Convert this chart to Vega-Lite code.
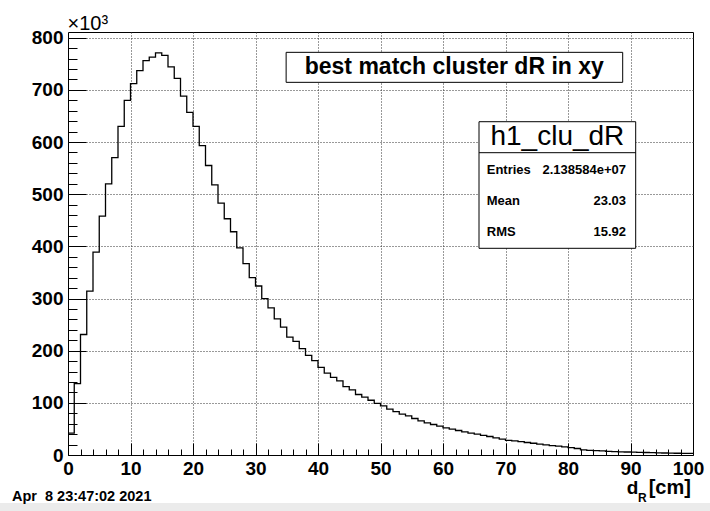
{
  "$schema": "https://vega.github.io/schema/vega-lite/v6.json",
  "width": 625,
  "height": 423,
  "autosize": {"type": "none"},
  "padding": {"left": 68, "top": 32, "right": 17, "bottom": 56},
  "background": "white",
  "config": {
    "view": {"stroke": "#000", "strokeWidth": 1},
    "font": "Liberation Sans"
  },
  "data": {
    "values": [
      {"lo": 0, "hi": 1, "n": 42}, {"lo": 1, "hi": 2, "n": 137}, {"lo": 2, "hi": 3, "n": 231}, {"lo": 3, "hi": 4, "n": 314},
      {"lo": 4, "hi": 5, "n": 389}, {"lo": 5, "hi": 6, "n": 458}, {"lo": 6, "hi": 7, "n": 520}, {"lo": 7, "hi": 8, "n": 570},
      {"lo": 8, "hi": 9, "n": 630}, {"lo": 9, "hi": 10, "n": 680}, {"lo": 10, "hi": 11, "n": 712}, {"lo": 11, "hi": 12, "n": 737},
      {"lo": 12, "hi": 13, "n": 756}, {"lo": 13, "hi": 14, "n": 763}, {"lo": 14, "hi": 15, "n": 771}, {"lo": 15, "hi": 16, "n": 766},
      {"lo": 16, "hi": 17, "n": 744}, {"lo": 17, "hi": 18, "n": 722}, {"lo": 18, "hi": 19, "n": 688}, {"lo": 19, "hi": 20, "n": 657},
      {"lo": 20, "hi": 21, "n": 630}, {"lo": 21, "hi": 22, "n": 593}, {"lo": 22, "hi": 23, "n": 555}, {"lo": 23, "hi": 24, "n": 518},
      {"lo": 24, "hi": 25, "n": 483}, {"lo": 25, "hi": 26, "n": 453}, {"lo": 26, "hi": 27, "n": 428}, {"lo": 27, "hi": 28, "n": 397},
      {"lo": 28, "hi": 29, "n": 367}, {"lo": 29, "hi": 30, "n": 340}, {"lo": 30, "hi": 31, "n": 324}, {"lo": 31, "hi": 32, "n": 300},
      {"lo": 32, "hi": 33, "n": 282}, {"lo": 33, "hi": 34, "n": 261}, {"lo": 34, "hi": 35, "n": 245}, {"lo": 35, "hi": 36, "n": 226},
      {"lo": 36, "hi": 37, "n": 218}, {"lo": 37, "hi": 38, "n": 204}, {"lo": 38, "hi": 39, "n": 191}, {"lo": 39, "hi": 40, "n": 181},
      {"lo": 40, "hi": 41, "n": 168}, {"lo": 41, "hi": 42, "n": 157}, {"lo": 42, "hi": 43, "n": 149}, {"lo": 43, "hi": 44, "n": 142},
      {"lo": 44, "hi": 45, "n": 131}, {"lo": 45, "hi": 46, "n": 125}, {"lo": 46, "hi": 47, "n": 116}, {"lo": 47, "hi": 48, "n": 111},
      {"lo": 48, "hi": 49, "n": 105}, {"lo": 49, "hi": 50, "n": 99}, {"lo": 50, "hi": 51, "n": 94}, {"lo": 51, "hi": 52, "n": 88},
      {"lo": 52, "hi": 53, "n": 83}, {"lo": 53, "hi": 54, "n": 78.5}, {"lo": 54, "hi": 55, "n": 75}, {"lo": 55, "hi": 56, "n": 70},
      {"lo": 56, "hi": 57, "n": 65.5}, {"lo": 57, "hi": 58, "n": 61.5}, {"lo": 58, "hi": 59, "n": 58.5}, {"lo": 59, "hi": 60, "n": 55.5},
      {"lo": 60, "hi": 61, "n": 52}, {"lo": 61, "hi": 62, "n": 49.5}, {"lo": 62, "hi": 63, "n": 47}, {"lo": 63, "hi": 64, "n": 44.5},
      {"lo": 64, "hi": 65, "n": 42}, {"lo": 65, "hi": 66, "n": 40}, {"lo": 66, "hi": 67, "n": 37.5}, {"lo": 67, "hi": 68, "n": 35.5},
      {"lo": 68, "hi": 69, "n": 33}, {"lo": 69, "hi": 70, "n": 30.5}, {"lo": 70, "hi": 71, "n": 28}, {"lo": 71, "hi": 72, "n": 27},
      {"lo": 72, "hi": 73, "n": 25.5}, {"lo": 73, "hi": 74, "n": 24}, {"lo": 74, "hi": 75, "n": 22.5}, {"lo": 75, "hi": 76, "n": 21},
      {"lo": 76, "hi": 77, "n": 19.5}, {"lo": 77, "hi": 78, "n": 18}, {"lo": 78, "hi": 79, "n": 17}, {"lo": 79, "hi": 80, "n": 15.5},
      {"lo": 80, "hi": 81, "n": 14}, {"lo": 81, "hi": 82, "n": 12.5}, {"lo": 82, "hi": 83, "n": 10}, {"lo": 83, "hi": 84, "n": 9},
      {"lo": 84, "hi": 85, "n": 8.5}, {"lo": 85, "hi": 86, "n": 8}, {"lo": 86, "hi": 87, "n": 7}, {"lo": 87, "hi": 88, "n": 6.5},
      {"lo": 88, "hi": 89, "n": 6}, {"lo": 89, "hi": 90, "n": 5.8}, {"lo": 90, "hi": 91, "n": 5.5}, {"lo": 91, "hi": 92, "n": 5},
      {"lo": 92, "hi": 93, "n": 4.8}, {"lo": 93, "hi": 94, "n": 4.5}, {"lo": 94, "hi": 95, "n": 4}, {"lo": 95, "hi": 96, "n": 3.8},
      {"lo": 96, "hi": 97, "n": 3.6}, {"lo": 97, "hi": 98, "n": 3.4}, {"lo": 98, "hi": 99, "n": 3.2}, {"lo": 99, "hi": 100, "n": 3}
    ]
  },
  "layer": [
    {
      "transform": [{"fold": ["lo", "hi"], "as": ["side", "edge"]}],
      "mark": {"type": "line", "color": "#000", "strokeWidth": 1.3, "interpolate": "linear"},
      "encoding": {
        "x": {
          "field": "edge",
          "type": "quantitative",
          "scale": {"domain": [0, 100], "nice": false, "zero": false},
          "axis": {
            "title": null,
            "values": [0, 2, 4, 6, 8, 10, 12, 14, 16, 18, 20, 22, 24, 26, 28, 30, 32, 34, 36, 38, 40, 42, 44, 46, 48, 50, 52, 54, 56, 58, 60, 62, 64, 66, 68, 70, 72, 74, 76, 78, 80, 82, 84, 86, 88, 90, 92, 94, 96, 98, 100],
            "tickCount": 200,
            "format": "d",
            "domain": false,
            "grid": true,
            "gridColor": "#333",
            "gridDash": [1, 2],
            "gridWidth": 1,
            "gridOpacity": {"condition": {"test": "datum.value % 10 === 0 && datum.value > 0 && datum.value < 100", "value": 1}, "value": 0},
            "ticks": true,
            "tickColor": "#000",
            "tickWidth": 1,
            "tickSize": -12,
            "tickDash": {"condition": {"test": "datum.value % 10 === 0", "value": [100, 1]}, "value": [6, 100]},
            "labelExpr": "datum.value % 10 === 0 ? datum.label : ''",
            "labelFont": "Liberation Sans",
            "labelFontSize": 19,
            "labelFontWeight": "bold",
            "labelColor": "#000",
            "labelPadding": 16,
            "labelOffset": {"condition": {"test": "datum.value === 100", "value": -5}, "value": 0},
            "labelFlush": false,
            "labelOverlap": false
          }
        },
        "y": {
          "field": "n",
          "type": "quantitative",
          "scale": {"domain": [0, 811], "nice": false},
          "axis": {
            "title": "×10³",
            "titleAngle": 0,
            "titleAlign": "left",
            "titleBaseline": "alphabetic",
            "titleX": -1,
            "titleY": -3,
            "titleFont": "Liberation Sans",
            "titleFontSize": 20,
            "titleFontWeight": "normal",
            "titleColor": "#000",
            "values": [0, 20, 40, 60, 80, 100, 120, 140, 160, 180, 200, 220, 240, 260, 280, 300, 320, 340, 360, 380, 400, 420, 440, 460, 480, 500, 520, 540, 560, 580, 600, 620, 640, 660, 680, 700, 720, 740, 760, 780, 800],
            "tickCount": 200,
            "format": "d",
            "domain": false,
            "grid": true,
            "gridColor": "#333",
            "gridDash": [1, 2],
            "gridWidth": 1,
            "gridOpacity": {"condition": {"test": "datum.value % 100 === 0 && datum.value > 0", "value": 1}, "value": 0},
            "ticks": true,
            "tickColor": "#000",
            "tickWidth": 1,
            "tickSize": -18,
            "tickDash": {"condition": {"test": "datum.value % 100 === 0", "value": [100, 1]}, "value": [9, 100]},
            "labelExpr": "datum.value % 100 === 0 ? datum.label : ''",
            "labelFont": "Liberation Sans",
            "labelFontSize": 19,
            "labelFontWeight": "bold",
            "labelColor": "#000",
            "labelPadding": 23,
            "labelFlush": false,
            "labelOverlap": false
          }
        },
        "order": [
          {"field": "edge", "type": "quantitative", "sort": "ascending"},
          {"field": "side", "type": "nominal", "sort": "ascending"}
        ]
      }
    },
    {
      "data": {"values": [{}]},
      "mark": {"type": "rect", "fill": "#ebebeb", "clip": false},
      "encoding": {
        "x": {"datum": -11, "type": "quantitative", "scale": {"domain": [0, 100], "nice": false, "zero": false}},
        "x2": {"datum": 103},
        "y": {"datum": -92, "type": "quantitative", "scale": {"domain": [0, 811], "nice": false}},
        "y2": {"datum": -108}
      }
    },
    {
      "data": {"values": [{}]},
      "mark": {"type": "rect", "fill": "white", "stroke": "#000", "strokeWidth": 1},
      "encoding": {
        "x": {"datum": 34.9, "type": "quantitative", "scale": {"domain": [0, 100], "nice": false, "zero": false}},
        "x2": {"datum": 88.75},
        "y": {"datum": 772, "type": "quantitative", "scale": {"domain": [0, 811], "nice": false}},
        "y2": {"datum": 714.5}
      }
    },
    {
      "data": {"values": [{}]},
      "mark": {"type": "text", "align": "center", "baseline": "middle", "font": "Liberation Sans", "fontSize": 23, "fontWeight": "bold", "color": "#000"},
      "encoding": {
        "x": {"datum": 61.8, "type": "quantitative", "scale": {"domain": [0, 100], "nice": false, "zero": false}},
        "y": {"datum": 743, "type": "quantitative", "scale": {"domain": [0, 811], "nice": false}},
        "text": {"value": "best match cluster dR in xy"}
      }
    },
    {
      "data": {"values": [{}]},
      "mark": {"type": "rect", "fill": "white", "stroke": "#000", "strokeWidth": 1},
      "encoding": {
        "x": {"datum": 65.76, "type": "quantitative", "scale": {"domain": [0, 100], "nice": false, "zero": false}},
        "x2": {"datum": 90.83},
        "y": {"datum": 639, "type": "quantitative", "scale": {"domain": [0, 811], "nice": false}},
        "y2": {"datum": 396.3}
      }
    },
    {
      "data": {"values": [{}]},
      "mark": {"type": "rule", "color": "#000", "strokeWidth": 1},
      "encoding": {
        "x": {"datum": 65.76, "type": "quantitative", "scale": {"domain": [0, 100], "nice": false, "zero": false}},
        "x2": {"datum": 90.83},
        "y": {"datum": 579.6, "type": "quantitative", "scale": {"domain": [0, 811], "nice": false}}
      }
    },
    {
      "data": {"values": [{}]},
      "mark": {"type": "text", "align": "center", "baseline": "middle", "font": "Liberation Sans", "fontSize": 28, "fontWeight": "normal", "color": "#000"},
      "encoding": {
        "x": {"datum": 78.3, "type": "quantitative", "scale": {"domain": [0, 100], "nice": false, "zero": false}},
        "y": {"datum": 609.7, "type": "quantitative", "scale": {"domain": [0, 811], "nice": false}},
        "text": {"value": "h1_clu_dR"}
      }
    },
    {
      "data": {"values": [{}]},
      "mark": {"type": "text", "align": "left", "baseline": "middle", "font": "Liberation Sans", "fontSize": 13, "fontWeight": "bold", "color": "#000"},
      "encoding": {
        "x": {"datum": 67.0, "type": "quantitative", "scale": {"domain": [0, 100], "nice": false, "zero": false}},
        "y": {"datum": 546.4, "type": "quantitative", "scale": {"domain": [0, 811], "nice": false}},
        "text": {"value": "Entries"}
      }
    },
    {
      "data": {"values": [{}]},
      "mark": {"type": "text", "align": "right", "baseline": "middle", "font": "Liberation Sans", "fontSize": 13, "fontWeight": "bold", "color": "#000"},
      "encoding": {
        "x": {"datum": 89.28, "type": "quantitative", "scale": {"domain": [0, 100], "nice": false, "zero": false}},
        "y": {"datum": 546.4, "type": "quantitative", "scale": {"domain": [0, 811], "nice": false}},
        "text": {"value": "2.138584e+07"}
      }
    },
    {
      "data": {"values": [{}]},
      "mark": {"type": "text", "align": "left", "baseline": "middle", "font": "Liberation Sans", "fontSize": 13, "fontWeight": "bold", "color": "#000"},
      "encoding": {
        "x": {"datum": 67.0, "type": "quantitative", "scale": {"domain": [0, 100], "nice": false, "zero": false}},
        "y": {"datum": 487, "type": "quantitative", "scale": {"domain": [0, 811], "nice": false}},
        "text": {"value": "Mean"}
      }
    },
    {
      "data": {"values": [{}]},
      "mark": {"type": "text", "align": "right", "baseline": "middle", "font": "Liberation Sans", "fontSize": 13, "fontWeight": "bold", "color": "#000"},
      "encoding": {
        "x": {"datum": 89.28, "type": "quantitative", "scale": {"domain": [0, 100], "nice": false, "zero": false}},
        "y": {"datum": 487, "type": "quantitative", "scale": {"domain": [0, 811], "nice": false}},
        "text": {"value": "23.03"}
      }
    },
    {
      "data": {"values": [{}]},
      "mark": {"type": "text", "align": "left", "baseline": "middle", "font": "Liberation Sans", "fontSize": 13, "fontWeight": "bold", "color": "#000"},
      "encoding": {
        "x": {"datum": 67.0, "type": "quantitative", "scale": {"domain": [0, 100], "nice": false, "zero": false}},
        "y": {"datum": 427.5, "type": "quantitative", "scale": {"domain": [0, 811], "nice": false}},
        "text": {"value": "RMS"}
      }
    },
    {
      "data": {"values": [{}]},
      "mark": {"type": "text", "align": "right", "baseline": "middle", "font": "Liberation Sans", "fontSize": 13, "fontWeight": "bold", "color": "#000"},
      "encoding": {
        "x": {"datum": 89.28, "type": "quantitative", "scale": {"domain": [0, 100], "nice": false, "zero": false}},
        "y": {"datum": 427.5, "type": "quantitative", "scale": {"domain": [0, 811], "nice": false}},
        "text": {"value": "15.92"}
      }
    },
    {
      "data": {"values": [{}]},
      "mark": {"type": "text", "align": "left", "baseline": "middle", "font": "Liberation Sans", "fontSize": 14.5, "fontWeight": "bold", "color": "#000"},
      "encoding": {
        "x": {"datum": -8.96, "type": "quantitative", "scale": {"domain": [0, 100], "nice": false, "zero": false}},
        "y": {"datum": -80.5, "type": "quantitative", "scale": {"domain": [0, 811], "nice": false}},
        "text": {"value": "Apr\u00a0 8 23:47:02 2021"}
      }
    },
    {
      "data": {"values": [{}]},
      "mark": {"type": "text", "align": "left", "baseline": "alphabetic", "font": "Liberation Sans", "fontSize": 19, "fontWeight": "bold", "color": "#000"},
      "encoding": {
        "x": {"datum": 89.4, "type": "quantitative", "scale": {"domain": [0, 100], "nice": false, "zero": false}},
        "y": {"datum": -75.5, "type": "quantitative", "scale": {"domain": [0, 811], "nice": false}},
        "text": {"value": "d"}
      }
    },
    {
      "data": {"values": [{}]},
      "mark": {"type": "text", "align": "left", "baseline": "alphabetic", "font": "Liberation Sans", "fontSize": 12, "fontWeight": "bold", "color": "#000"},
      "encoding": {
        "x": {"datum": 91.2, "type": "quantitative", "scale": {"domain": [0, 100], "nice": false, "zero": false}},
        "y": {"datum": -91, "type": "quantitative", "scale": {"domain": [0, 811], "nice": false}},
        "text": {"value": "R"}
      }
    },
    {
      "data": {"values": [{}]},
      "mark": {"type": "text", "align": "left", "baseline": "alphabetic", "font": "Liberation Sans", "fontSize": 20, "fontWeight": "bold", "color": "#000"},
      "encoding": {
        "x": {"datum": 92.9, "type": "quantitative", "scale": {"domain": [0, 100], "nice": false, "zero": false}},
        "y": {"datum": -75.5, "type": "quantitative", "scale": {"domain": [0, 811], "nice": false}},
        "text": {"value": "[cm]"}
      }
    }
  ]
}
